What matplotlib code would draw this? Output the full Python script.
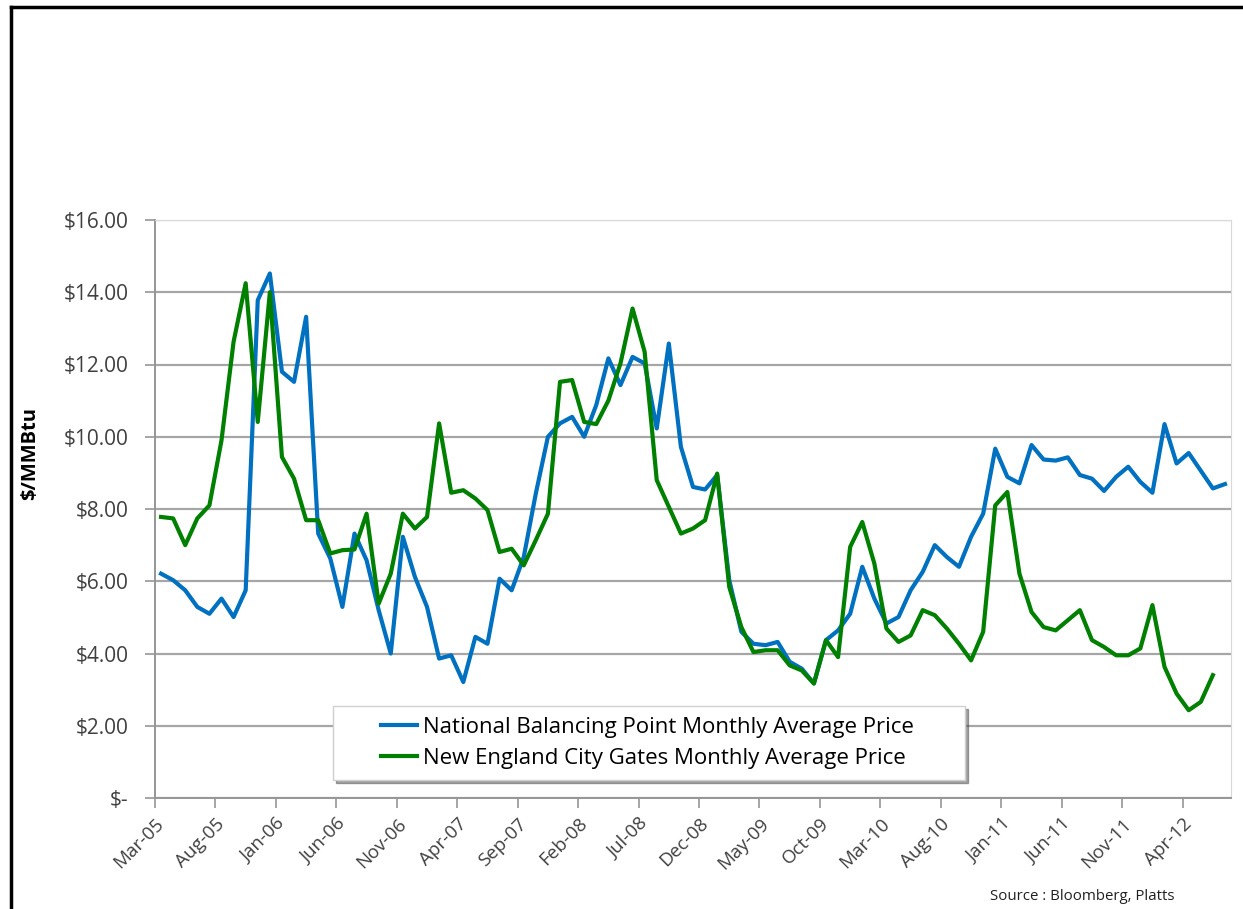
import numpy as np
import matplotlib.pyplot as plt
from matplotlib.lines import Line2D
from matplotlib.legend_handler import HandlerLine2D

# monthly averages, Mar-05 .. Jul-12 ($/MMBtu)
nbp = [6.21, 6.03, 5.75, 5.29, 5.10, 5.52, 5.01, 5.75, 13.78, 14.52,
       11.80, 11.52, 13.32, 7.32, 6.63, 5.29, 7.32, 6.58, 5.20, 4.00,
       7.23, 6.12, 5.29, 3.86, 3.95, 3.21, 4.46, 4.27, 6.07, 5.75,
       6.67, 8.43, 10.00, 10.37, 10.55, 10.00, 10.88, 12.17, 11.43, 12.21,
       12.03, 10.23, 12.58, 9.72, 8.61, 8.54, 8.94, 6.03, 4.60, 4.27,
       4.23, 4.32, 3.77, 3.58, 3.17, 4.37, 4.64, 5.10, 6.40, 5.52,
       4.83, 5.01, 5.75, 6.26, 7.00, 6.67, 6.40, 7.23, 7.87, 9.67,
       8.89, 8.71, 9.77, 9.37, 9.34, 9.43, 8.94, 8.84, 8.50, 8.89,
       9.17, 8.75, 8.45, 10.35, 9.26, 9.55, 9.06, 8.57, 8.69]
neng = [7.78, 7.74, 7.00, 7.74, 8.10, 9.90, 12.63, 14.25, 10.41, 14.00,
        9.44, 8.84, 7.69, 7.69, 6.77, 6.86, 6.88, 7.87, 5.38, 6.21,
        7.87, 7.46, 7.78, 10.37, 8.45, 8.52, 8.29, 7.97, 6.81, 6.90,
        6.44, 7.14, 7.87, 11.52, 11.57, 10.41, 10.35, 11.00, 12.03, 13.55,
        12.35, 8.80, 8.06, 7.32, 7.46, 7.69, 8.98, 5.84, 4.73, 4.04,
        4.09, 4.09, 3.67, 3.53, 3.17, 4.37, 3.90, 6.95, 7.64, 6.49,
        4.69, 4.32, 4.50, 5.20, 5.06, 4.69, 4.27, 3.81, 4.60, 8.10,
        8.47, 6.21, 5.15, 4.73, 4.64, 4.92, 5.20, 4.37, 4.18, 3.95,
        3.95, 4.14, 5.34, 3.63, 2.89, 2.43, 2.66, 3.40]
tick_labels = ["Mar-05", "Aug-05", "Jan-06", "Jun-06", "Nov-06", "Apr-07",
               "Sep-07", "Feb-08", "Jul-08", "Dec-08", "May-09", "Oct-09",
               "Mar-10", "Aug-10", "Jan-11", "Jun-11", "Nov-11", "Apr-12"]
y_ticks = [0, 2, 4, 6, 8, 10, 12, 14, 16]
y_labels = ["$-"] + ["${:.2f}".format(v) for v in y_ticks[1:]]


class ShortLine(HandlerLine2D):
    # legend key drawn only on the right half of the handle box (Excel style)
    def create_artists(self, legend, orig_handle, xdescent, ydescent,
                       width, height, fontsize, trans):
        arts = super().create_artists(legend, orig_handle, xdescent, ydescent,
                                      width, height, fontsize, trans)
        for a in arts:
            x = np.asarray(a.get_xdata(), dtype=float)
            if len(x) > 1:
                a.set_xdata(np.linspace(x[0] + 0.5 * (x[-1] - x[0]), x[-1], len(x)))
        return arts


plt.rcParams['font.family'] = ['Open Sans', 'DejaVu Sans']

fig = plt.figure(figsize=(12.43, 9.09), dpi=100)
ax = fig.add_axes([155/1243, 1-798/909, (1231-155)/1243, (798-220)/909])

ax.plot(np.arange(len(nbp)), nbp, color='#0070C0', lw=3,
        label='National Balancing Point Monthly Average Price')
ax.plot(np.arange(len(neng)), neng, color='#008000', lw=3,
        label='New England City Gates Monthly Average Price')

ax.set_xlim(-0.5, len(nbp) - 0.5)
ax.set_ylim(0, 16)
ax.set_yticks(y_ticks)
ax.set_yticklabels(y_labels, fontsize=15, color='#404040')
ax.set_xticks(np.arange(len(tick_labels)) * 5 - 0.5)
ax.set_xticklabels(tick_labels, rotation=45, ha='right', va='top',
                   rotation_mode='anchor', fontsize=13.5, color='#404040')
ax.tick_params(axis='both', color='#969696', length=7, width=1.2)
ax.tick_params(axis='x', pad=5)
ax.tick_params(axis='y', pad=12)
ax.yaxis.grid(True, color='#A6A6A6', lw=1.6)
ax.set_axisbelow(True)
for s in ['top', 'right']:
    ax.spines[s].set_color('#D9D9D9')
for s in ['left', 'bottom']:
    ax.spines[s].set_color('#969696')
    ax.spines[s].set_linewidth(1.4)

ax.set_ylabel("$/MMBtu", fontsize=14.5, fontweight='bold')
ax.yaxis.set_label_coords((40-155)/1076, (798-453)/578)

leg = ax.legend(loc='lower left',
                bbox_to_anchor=((333-155)/1076, (798-780)/578, (965-333)/1076, 0.13),
                mode='expand', handler_map={Line2D: ShortLine()},
                fontsize=16, handlelength=3.3, handletextpad=0.25,
                fancybox=False, shadow=True, edgecolor='#D0D0D0',
                borderpad=0.5, labelspacing=0.45, borderaxespad=0)
leg.get_frame().set_linewidth(1)

fig.text(1175/1243, 1-897/909, "Source : Bloomberg, Platts", fontsize=10.8,
         ha='right', va='center', color='#202020')

# outer frame of the screenshot
fig.add_artist(Line2D([11/1243, 11/1243], [0, 1-7/909], color='black', lw=2.5))
fig.add_artist(Line2D([11/1243, 1], [1-7/909, 1-7/909], color='black', lw=2.5))

fig.savefig('out.png', dpi=100)
